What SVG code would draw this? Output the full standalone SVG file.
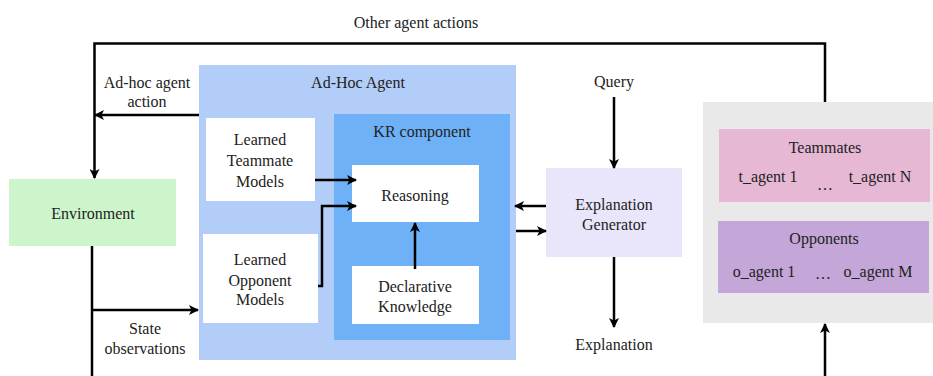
<svg xmlns="http://www.w3.org/2000/svg" width="933" height="376" viewBox="0 0 933 376">
<defs>
<marker id="ah" markerWidth="10" markerHeight="10" viewBox="0 0 10 10" refX="9" refY="5" markerUnits="userSpaceOnUse" orient="auto">
<path d="M0,0 L10,5 L0,10 L2.5,5 Z" fill="#000"/>
</marker>
<style>
text{font-family:"Liberation Serif","Times New Roman",serif;font-size:16px;fill:#222;text-anchor:middle;dominant-baseline:central}
.c{fill:none;stroke:#000;stroke-width:2.5}
.a{marker-end:url(#ah)}
</style>
</defs>
<rect width="933" height="376" fill="#fff"/>
<g id="adhoc">
<rect x="199" y="65" width="317" height="295" fill="#b2cdf7"/>
<text x="358" y="82">Ad-Hoc Agent</text>
</g>
<g id="kr">
<rect x="334" y="114" width="176" height="226" fill="#6eb1f6"/>
<text x="422" y="131">KR component</text>
</g>
<g id="env">
<rect x="9" y="179" width="167" height="67" fill="#ccf5cc"/>
<text x="93" y="213">Environment</text>
</g>
<g id="teammateModels">
<rect x="206" y="118" width="109" height="83" fill="#fff"/>
<text x="260" y="139">Learned</text>
<text x="260" y="160">Teammate</text>
<text x="260" y="181">Models</text>
</g>
<g id="opponentModels">
<rect x="203" y="234" width="115" height="89" fill="#fff"/>
<text x="260" y="259">Learned</text>
<text x="260" y="280">Opponent</text>
<text x="260" y="299">Models</text>
</g>
<g id="reasoning">
<rect x="352" y="165" width="127" height="57" fill="#fff"/>
<text x="415" y="195">Reasoning</text>
</g>
<g id="declarative">
<rect x="352" y="266" width="127" height="58" fill="#fff"/>
<text x="415" y="286">Declarative</text>
<text x="415" y="306">Knowledge</text>
</g>
<g id="explGen">
<rect x="546" y="168" width="136" height="89" fill="#e9e5fa"/>
<text x="614" y="204">Explanation</text>
<text x="614" y="224">Generator</text>
</g>
<g id="others">
<rect x="703" y="102" width="230" height="221" fill="#e9e9e9"/>
</g>
<g id="teammates">
<rect x="719" y="129" width="211" height="73" fill="#e6b8d4"/>
<text x="825" y="147">Teammates</text>
<text x="768" y="176">t_agent 1</text>
<text x="825" y="184">…</text>
<text x="880" y="176">t_agent N</text>
</g>
<g id="opponents">
<rect x="718" y="221" width="211" height="72" fill="#c4a6d8"/>
<text x="824" y="238">Opponents</text>
<text x="764" y="271">o_agent 1</text>
<text x="823" y="273">…</text>
<text x="878" y="271">o_agent M</text>
</g>
<g id="connectors">
<path class="c a" d="M825,102 V43.5 H94.5 V178"/>
<path class="c a" d="M199,115 H95"/>
<path class="c" d="M92,246 V376"/>
<path class="c a" d="M92,310 H198"/>
<path class="c a" d="M315,180 H356"/>
<path class="c a" d="M318,286 H322 V206 H356"/>
<path class="c a" d="M415,269 V223"/>
<path class="c a" d="M546,206 H515"/>
<path class="c a" d="M516,231 H546"/>
<path class="c a" d="M614,97 V168"/>
<path class="c a" d="M614,257 V327"/>
<path class="c a" d="M825,376 V324"/>
</g>
<g id="labels">
<text x="416" y="22">Other agent actions</text>
<text x="147" y="82">Ad-hoc agent</text>
<text x="147" y="101">action</text>
<text x="145" y="328">State</text>
<text x="145" y="348">observations</text>
<text x="614" y="81">Query</text>
<text x="614" y="344">Explanation</text>
</g>
</svg>
